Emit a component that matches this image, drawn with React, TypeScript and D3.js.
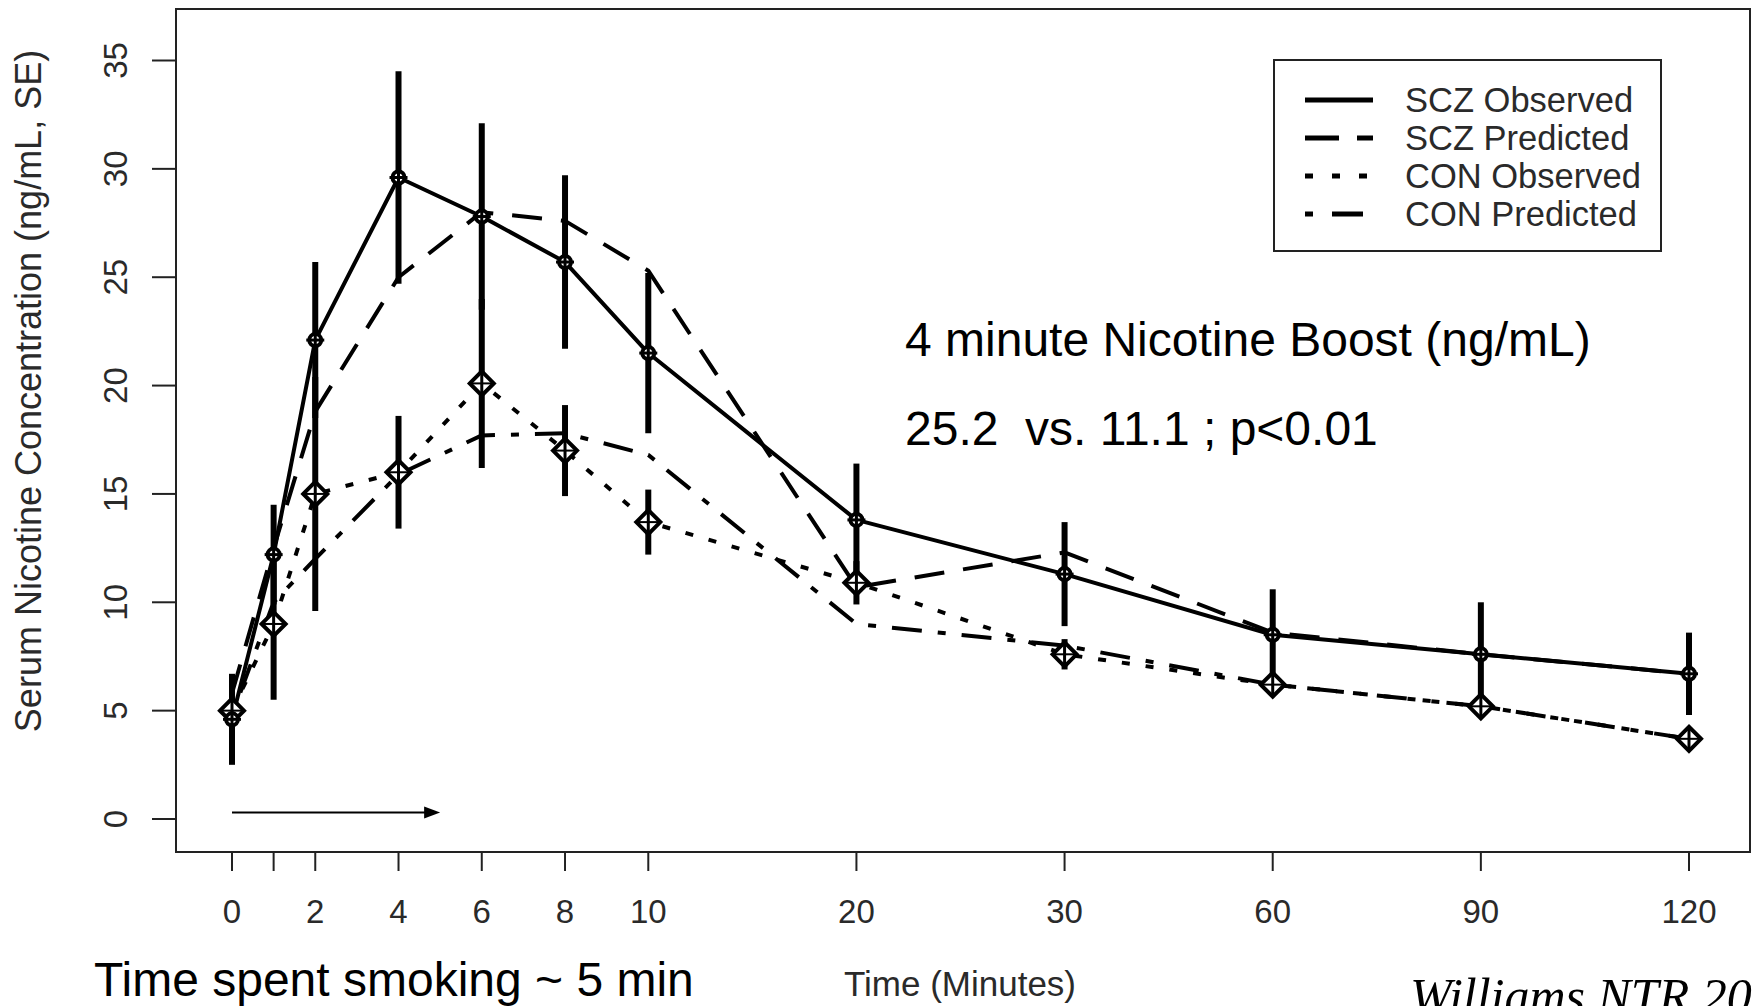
import React from 'react';
import * as d3 from 'd3';

// sampling times (minutes) and tick labels (the 1-minute tick has no label)
const times = [0, 1, 2, 4, 6, 8, 10, 20, 30, 60, 90, 120];
const tickLabels = ['0', '', '2', '4', '6', '8', '10', '20', '30', '60', '90', '120'];
const yTicks = [0, 5, 10, 15, 20, 25, 30, 35];

// serum nicotine, ng/mL
const sczObserved = [4.6, 12.2, 22.1, 29.6, 27.8, 25.7, 21.5, 13.8, 11.3, 8.5, 7.6, 6.7];
const sczSE = [2.1, 2.3, 3.6, 4.9, 4.3, 4.0, 3.7, 2.6, 2.4, 2.1, 2.4, 1.9];
const sczPredicted = [5.8, 12.5, 18.8, 25.0, 28.0, 27.6, 25.3, 10.7, 12.3, 8.6, 7.6, 6.7];
const conObserved = [5.0, 9.0, 15.0, 16.0, 20.1, 17.0, 13.7, 10.9, 7.6, 6.2, 5.2, 3.7];
const conSE = [0.6, 3.5, 5.4, 2.6, 3.9, 2.1, 1.5, 1.0, 0.7, 0.3, 0.4, 0.3];
const conPredicted = [4.8, 10.0, 12.0, 15.9, 17.7, 17.8, 16.8, 9.0, 8.0, 6.2, 5.2, 3.7];

const legendLabels = ['SCZ Observed', 'SCZ Predicted', 'CON Observed', 'CON Predicted'];
const dashes = ['none', '30 19', '8 16', '8 16 30 16'];
const legendDashes = ['none', '34 18', '8 19', '8 19 31 19'];

// smoking period arrow
const smokeStart = 0;
const smokeEnd = 5;
const smokeLevel = 0.3;

const W = 1756;
const H = 1006;
const box = { left: 176, top: 9, right: 1750, bottom: 852 };
const unit = (1689 - 232) / 35;

const x = d3.scaleLinear()
  .domain([0, 10, 20, 30, 60, 90, 120])
  .range([0, 10, 15, 20, 25, 30, 35].map(k => 232 + k * unit));
const y = d3.scaleLinear().domain([0, 35]).range([819, 60.5]);

const sans = 'Liberation Sans, Arial, Helvetica, sans-serif';
const gray = '#2a2a2a';

const App = () => {
  const line = d3.line<number>()
    .x((_, i) => x(times[i]))
    .y(d => y(d));

  const series = [sczObserved, sczPredicted, conObserved, conPredicted];

  return (
    <div style={{ position: 'absolute', left: 0, top: 0, background: '#fff' }}>
      <svg width={W} height={H} style={{ display: 'block', overflow: 'hidden' }}>
        <rect width={W} height={H} fill="#fff" />

        {/* plot frame */}
        <rect x={box.left} y={box.top} width={box.right - box.left} height={box.bottom - box.top}
          fill="none" stroke="#222" strokeWidth={2} />

        {/* y axis */}
        {yTicks.map(t => (
          <g key={'y' + t}>
            <line x1={152} x2={box.left} y1={y(t)} y2={y(t)} stroke="#222" strokeWidth={2} />
            <text transform={`translate(127,${y(t)}) rotate(-90)`} textAnchor="middle"
              fontFamily={sans} fontSize={33} fill={gray}>{t}</text>
          </g>
        ))}
        <text transform={`translate(41,391) rotate(-90)`} textAnchor="middle"
          fontFamily={sans} fontSize={36} fill={gray}>Serum Nicotine Concentration (ng/mL, SE)</text>

        {/* x axis */}
        {times.map((t, i) => (
          <g key={'x' + t}>
            <line x1={x(t)} x2={x(t)} y1={box.bottom} y2={871} stroke="#222" strokeWidth={2} />
            <text x={x(t)} y={923} textAnchor="middle" fontFamily={sans} fontSize={33} fill={gray}>
              {tickLabels[i]}
            </text>
          </g>
        ))}
        <text x={960} y={996} textAnchor="middle" fontFamily={sans} fontSize={35} fill={gray}>
          Time (Minutes)
        </text>

        {/* series lines */}
        {series.map((s, i) => (
          <path key={'s' + i} d={line(s) || ''} fill="none" stroke="#000" strokeWidth={4}
            strokeDasharray={dashes[i]} strokeLinejoin="round" />
        ))}

        {/* error bars */}
        {times.map((t, i) => (
          <g key={'e' + t}>
            <line x1={x(t)} x2={x(t)} y1={y(sczObserved[i] + sczSE[i])} y2={y(sczObserved[i] - sczSE[i])}
              stroke="#000" strokeWidth={6} />
            <line x1={x(t)} x2={x(t)} y1={y(conObserved[i] + conSE[i])} y2={y(conObserved[i] - conSE[i])}
              stroke="#000" strokeWidth={6} />
          </g>
        ))}

        {/* CON markers: diamond plus */}
        {times.map((t, i) => {
          const cx = x(t);
          const cy = y(conObserved[i]);
          const r = 12;
          return (
            <g key={'cm' + t}>
              <path d={`M${cx - r},${cy}L${cx},${cy - r}L${cx + r},${cy}L${cx},${cy + r}Z`}
                fill="#fff" stroke="#000" strokeWidth={4} />
              <line x1={cx} x2={cx} y1={cy - r} y2={cy + r} stroke="#000" strokeWidth={3} />
              <line x1={cx - r} x2={cx + r} y1={cy} y2={cy} stroke="#000" strokeWidth={2} />
            </g>
          );
        })}

        {/* SCZ markers: circle plus */}
        {times.map((t, i) => {
          const cx = x(t);
          const cy = y(sczObserved[i]);
          return (
            <g key={'sm' + t}>
              <circle cx={cx} cy={cy} r={6} fill="#fff" stroke="#000" strokeWidth={4} />
              <line x1={cx} x2={cx} y1={cy - 8} y2={cy + 8} stroke="#000" strokeWidth={3} />
              <line x1={cx - 9} x2={cx + 9} y1={cy} y2={cy} stroke="#000" strokeWidth={3} />
            </g>
          );
        })}

        {/* smoking-time arrow */}
        <line x1={x(smokeStart)} x2={x(smokeEnd) - 14} y1={y(smokeLevel)} y2={y(smokeLevel)}
          stroke="#000" strokeWidth={2} />
        <path d={`M${x(smokeEnd)},${y(smokeLevel)}L${x(smokeEnd) - 16},${y(smokeLevel) - 6}L${x(smokeEnd) - 16},${y(smokeLevel) + 6}Z`}
          fill="#000" />

        {/* legend */}
        <rect x={1274} y={60} width={387} height={191} fill="#fff" stroke="#222" strokeWidth={2} />
        {legendLabels.map((lab, i) => {
          const ly = 100 + i * 38;
          return (
            <g key={lab}>
              <line x1={1305} x2={1373} y1={ly} y2={ly} stroke="#000" strokeWidth={5}
                strokeDasharray={legendDashes[i]} />
              <text x={1405} y={ly + 12} fontFamily={sans} fontSize={34.5} fill={gray}>{lab}</text>
            </g>
          );
        })}

        {/* annotations */}
        <text x={905} y={356} fontFamily={sans} fontSize={48} fill="#000">4 minute Nicotine Boost (ng/mL)</text>
        <text x={905} y={445} fontFamily={sans} fontSize={48} fill="#000" style={{ whiteSpace: 'pre' }}>
          {'25.2  vs. 11.1 ; p<0.01'}
        </text>
        <text x={94} y={996} fontFamily={sans} fontSize={48} fill="#000">Time spent smoking ~ 5 min</text>
        <text x={1410} y={1013} fontFamily="Liberation Serif, Times New Roman, serif" fontStyle="italic"
          fontSize={50} fill="#000">Williams NTR 20</text>
      </svg>
    </div>
  );
};

export default App;
